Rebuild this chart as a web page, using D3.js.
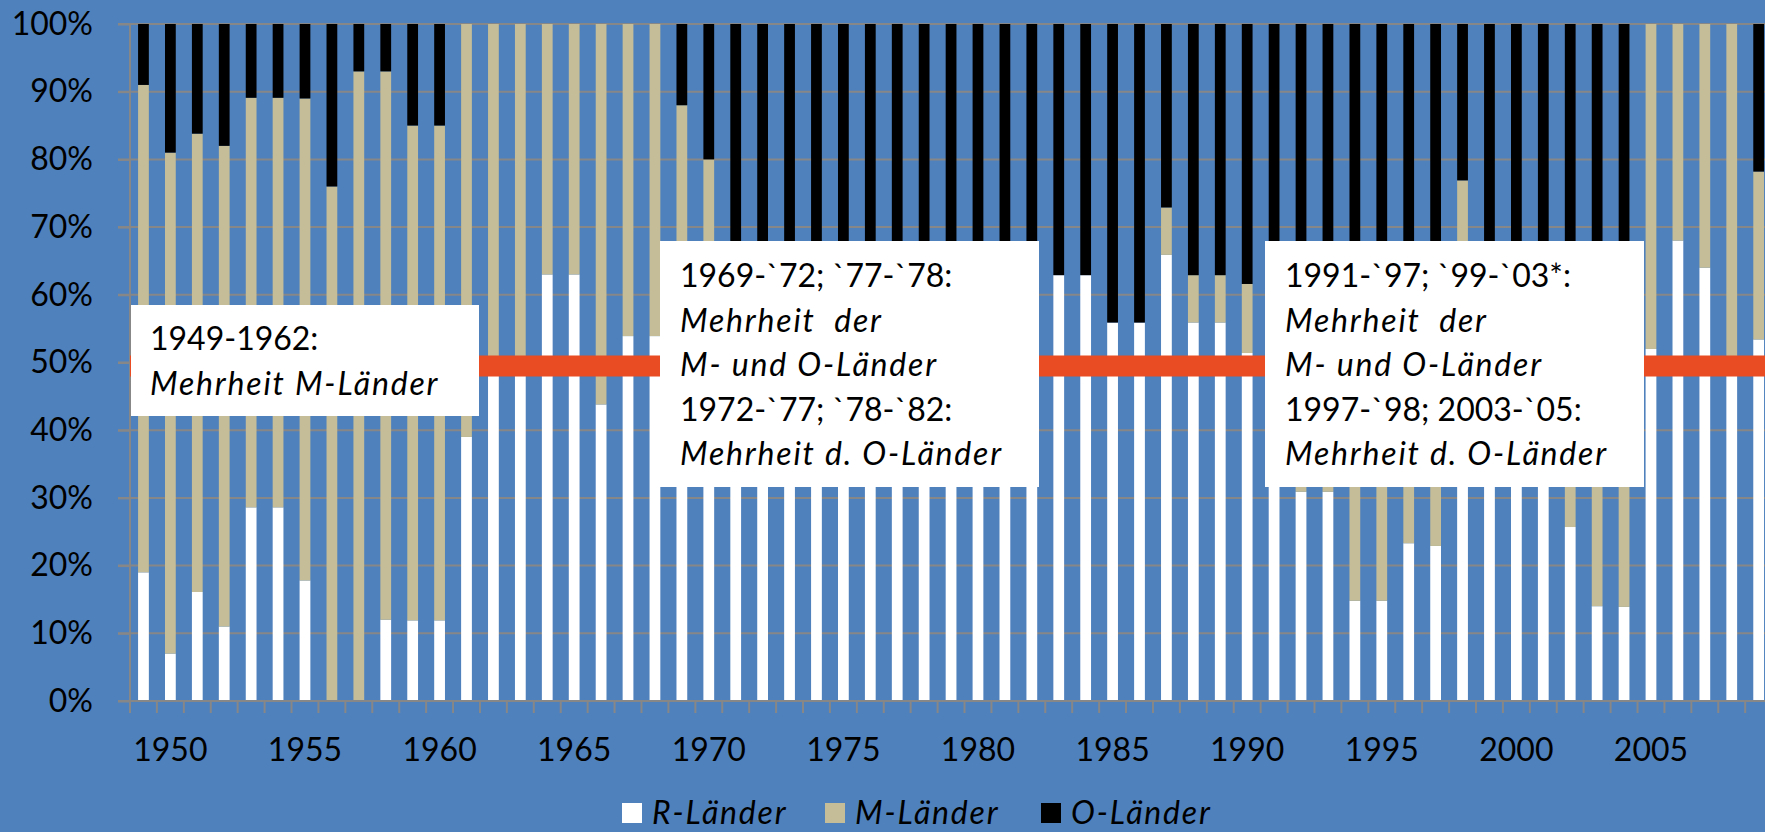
<!DOCTYPE html>
<html>
<head>
<meta charset="utf-8">
<script src="https://cdn.jsdelivr.net/npm/d3@7/dist/d3.min.js"></script>
<style>
  body { margin: 0; background: #4f81bd; }
  svg { display: block; font-family: Lato, "Open Sans", sans-serif; }
</style>
</head>
<body>
<div id="chart"></div>
<script>
// categories
const years = [
  1949, 1950, 1951, 1952, 1953, 1954, 1955, 1956, 1957, 1958,
  1959, 1960, 1961, 1962, 1963, 1964, 1965, 1966, 1967, 1968,
  1969, 1970, 1971, 1972, 1973, 1974, 1975, 1976, 1977, 1978,
  1979, 1980, 1981, 1982, 1983, 1984, 1985, 1986, 1987, 1988,
  1989, 1990, 1991, 1992, 1993, 1994, 1995, 1996, 1997, 1998,
  1999, 2000, 2001, 2002, 2003, 2004, 2005, 2006, 2007, 2008, 2009
];
const yearLabels = [1950, 1955, 1960, 1965, 1970, 1975, 1980, 1985, 1990, 1995, 2000, 2005];
const percentTicks = [0, 0.1, 0.2, 0.3, 0.4, 0.5, 0.6, 0.7, 0.8, 0.9, 1];

// shares in percent (parts hidden behind the boxes are estimates)
const rLaender = [
  19, 7, 16.1, 11, 28.6, 28.6, 17.8, 0, 0, 12,
  11.9, 11.9, 39, 49, 49, 63, 63, 43.8, 53.9, 53.9,
  44, 44, 44, 44, 44, 44, 44, 44, 44, 44,
  44, 44, 44, 44, 62.9, 62.9, 55.9, 55.9, 65.9, 55.9,
  55.9, 51.4, 40, 30.9, 30.9, 14.8, 14.8, 23.3, 22.9, 45,
  40, 40, 40, 25.7, 14, 13.9, 52, 68, 64, 49, 53.4
];
const mLaender = [
  72, 74, 67.7, 71, 60.5, 60.5, 71.2, 76, 93, 81,
  73.1, 73.1, 61, 51, 51, 37, 37, 56.2, 46.1, 46.1,
  44, 36, 12, 0, 0, 0, 0, 0, 12, 0,
  0, 0, 0, 0, 0, 0, 0, 0, 7, 7,
  7, 10.2, 12, 20, 20, 40, 40, 30, 22.1, 31.9,
  15, 15, 15, 30, 31, 31.1, 48, 32, 36, 51, 24.8
];
const oLaender = [
  9, 19, 16.2, 18, 10.9, 10.9, 11, 24, 7, 7,
  15, 15, 0, 0, 0, 0, 0, 0, 0, 0,
  12, 20, 44, 56, 56, 56, 56, 56, 44, 56,
  56, 56, 56, 56, 37.1, 37.1, 44.1, 44.1, 27.1, 37.1,
  37.1, 38.4, 48, 49.1, 49.1, 45.2, 45.2, 46.7, 55, 23.1,
  45, 45, 45, 44.3, 55, 55, 0, 0, 0, 0, 21.8
];
const seriesNames = ["R-Länder", "M-Länder", "O-Länder"];
const seriesColors = ["#ffffff", "#c4bd97", "#000000"];
const majorityLine = 0.495;

const notes = [
  [["1949-1962:", false], ["Mehrheit M-Länder", true]],
  [["1969-`72; `77-`78:", false], ["Mehrheit  der", true], ["M- und O-Länder", true],
   ["1972-`77; `78-`82:", false], ["Mehrheit d. O-Länder", true]],
  [["1991-`97; `99-`03*:", false], ["Mehrheit  der", true], ["M- und O-Länder", true],
   ["1997-`98; 2003-`05:", false], ["Mehrheit d. O-Länder", true]]
];

// layout
const width = 1765;
const height = 832;
const plotLeft = 130;
const step = 26.92;
const plotTop = 24;
const plotBottom = 701;
const italicSpacing = "1.8px";
const noteBoxes = [
  { x: 131, y: 305, w: 348, h: 111, tx: 150, ty: 350 },
  { x: 660, y: 241, w: 379, h: 246, tx: 680, ty: 287 },
  { x: 1265, y: 241, w: 379, h: 246, tx: 1285, ty: 287 }
];
const legendX = [622, 825, 1041];

const table = years.map((year, i) => ({
  year: year,
  "R-Länder": rLaender[i],
  "M-Länder": mLaender[i],
  "O-Länder": oLaender[i]
}));

const svg = d3.select("#chart")
  .append("svg")
  .attr("width", width)
  .attr("height", height);

svg.append("rect")
  .attr("width", width)
  .attr("height", height)
  .attr("fill", "#4f81bd");

const x = d3.scaleBand()
  .domain(years)
  .range([plotLeft, plotLeft + step * years.length])
  .paddingInner(0.6)
  .paddingOuter(0.3);

const y = d3.scaleLinear()
  .domain([0, 1])
  .range([plotBottom, plotTop]);

const color = d3.scaleOrdinal().domain(seriesNames).range(seriesColors);

// gridlines
svg.append("g")
  .selectAll("line")
  .data(percentTicks.filter(d => d > 0))
  .enter()
  .append("line")
  .attr("x1", plotLeft - 12)
  .attr("x2", width)
  .attr("y1", d => y(d))
  .attr("y2", d => y(d))
  .attr("stroke", "#878787")
  .attr("stroke-width", 2);

// stacked bars (100%)
const stacked = d3.stack()
  .keys(seriesNames)
  .offset(d3.stackOffsetExpand)(table);

svg.append("g")
  .selectAll("g")
  .data(stacked)
  .enter()
  .append("g")
  .attr("fill", d => color(d.key))
  .selectAll("rect")
  .data(d => d)
  .enter()
  .append("rect")
  .attr("x", d => x(d.data.year))
  .attr("width", x.bandwidth())
  .attr("y", d => y(d[1]))
  .attr("height", d => y(d[0]) - y(d[1]));

// y axis
const yAxis = svg.append("g")
  .attr("transform", `translate(${plotLeft},0)`)
  .call(d3.axisLeft(y)
    .tickValues(percentTicks)
    .tickFormat(d3.format(".0%"))
    .tickSize(12)
    .tickPadding(25));
yAxis.select(".domain").attr("stroke", "#878787").attr("stroke-width", 2)
  .attr("d", `M0,${plotTop}V${plotBottom + 12}`);
yAxis.selectAll(".tick line").attr("stroke", "#878787").attr("stroke-width", 2);
yAxis.selectAll(".tick text")
  .attr("font-size", 32)
  .attr("fill", "#000")
  .attr("font-family", "Lato, sans-serif");

// x axis
svg.append("line")
  .attr("x1", plotLeft - 12)
  .attr("x2", width)
  .attr("y1", plotBottom)
  .attr("y2", plotBottom)
  .attr("stroke", "#878787")
  .attr("stroke-width", 2);

svg.append("g")
  .selectAll("line")
  .data(years)
  .enter()
  .append("line")
  .attr("x1", d => x(d) - x.step() * 0.3)
  .attr("x2", d => x(d) - x.step() * 0.3)
  .attr("y1", plotBottom)
  .attr("y2", plotBottom + 12)
  .attr("stroke", "#878787")
  .attr("stroke-width", 2);

svg.append("g")
  .selectAll("text")
  .data(yearLabels)
  .enter()
  .append("text")
  .attr("x", d => x(d) + x.bandwidth() / 2)
  .attr("y", 761)
  .attr("text-anchor", "middle")
  .attr("font-size", 32)
  .attr("fill", "#000")
  .text(d => d);

// 50% line
svg.append("line")
  .attr("x1", plotLeft)
  .attr("x2", width)
  .attr("y1", y(majorityLine))
  .attr("y2", y(majorityLine))
  .attr("stroke", "#e94c22")
  .attr("stroke-width", 21);

// note boxes
noteBoxes.forEach((box, i) => {
  const g = svg.append("g");
  g.append("rect")
    .attr("x", box.x)
    .attr("y", box.y)
    .attr("width", box.w)
    .attr("height", box.h)
    .attr("fill", "#ffffff");
  g.selectAll("text")
    .data(notes[i])
    .enter()
    .append("text")
    .attr("x", box.tx)
    .attr("y", (d, j) => box.ty + j * 44.5)
    .attr("font-size", 32)
    .attr("font-style", d => d[1] ? "italic" : "normal")
    .attr("letter-spacing", d => d[1] ? italicSpacing : null)
    .attr("fill", "#000")
    .style("white-space", "pre")
    .text(d => d[0]);
});

// legend
const legend = svg.append("g");
seriesNames.forEach((name, i) => {
  legend.append("rect")
    .attr("x", legendX[i])
    .attr("y", 803)
    .attr("width", 20)
    .attr("height", 20)
    .attr("fill", color(name));
  legend.append("text")
    .attr("x", legendX[i] + 30)
    .attr("y", 824)
    .attr("font-size", 32)
    .attr("font-style", "italic")
    .attr("letter-spacing", italicSpacing)
    .attr("fill", "#000")
    .text(name);
});
</script>
</body>
</html>
